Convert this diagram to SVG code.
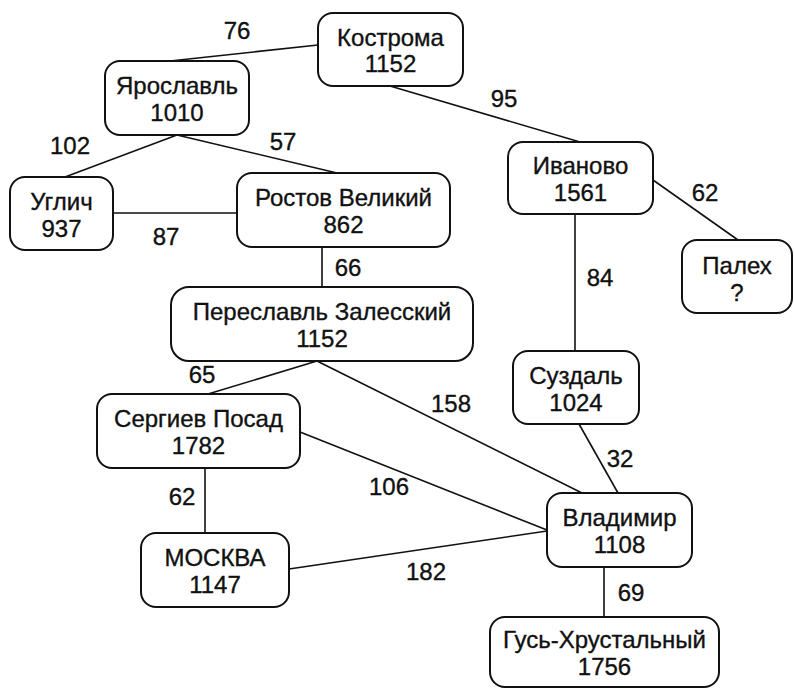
<svg xmlns="http://www.w3.org/2000/svg" width="794" height="689" viewBox="0 0 794 689">
<style>
.box{fill:#fff;stroke:#111;stroke-width:2}
.t{font-family:"Liberation Sans",Arial,sans-serif;font-size:24px;fill:#111;stroke:#111;stroke-width:0.35;text-anchor:middle}
.e{stroke:#111;stroke-width:1.6;fill:none}
</style>
<rect width="794" height="689" fill="#fff"/>
<g id="connectors">
<line class="e" x1="318" y1="45" x2="170" y2="61"/>
<line class="e" x1="390" y1="86" x2="580" y2="142"/>
<line class="e" x1="177" y1="135" x2="65" y2="177"/>
<line class="e" x1="177" y1="135" x2="337" y2="173"/>
<line class="e" x1="113" y1="213" x2="237" y2="213"/>
<line class="e" x1="322" y1="247" x2="322" y2="287"/>
<line class="e" x1="653" y1="180" x2="738" y2="240"/>
<line class="e" x1="575" y1="214" x2="575" y2="351"/>
<line class="e" x1="317" y1="361" x2="208" y2="394"/>
<line class="e" x1="317" y1="361" x2="582" y2="493"/>
<line class="e" x1="579" y1="424" x2="618" y2="493"/>
<line class="e" x1="300" y1="432" x2="547" y2="530"/>
<line class="e" x1="205" y1="468" x2="205" y2="533"/>
<line class="e" x1="289" y1="569" x2="547" y2="531"/>
<line class="e" x1="604" y1="567" x2="604" y2="617"/>
<g class="t">
<text x="237" y="39">76</text>
<text x="504" y="107">95</text>
<text x="70" y="154">102</text>
<text x="283" y="150">57</text>
<text x="166" y="245">87</text>
<text x="348" y="276">66</text>
<text x="705" y="201">62</text>
<text x="600" y="286">84</text>
<text x="202" y="383">65</text>
<text x="451" y="412">158</text>
<text x="620" y="467">32</text>
<text x="389" y="495">106</text>
<text x="182" y="505">62</text>
<text x="426" y="580">182</text>
<text x="631" y="601">69</text>
</g>
</g>
<g id="kostroma"><rect class="box" x="318" y="13" width="145" height="73" rx="15"/><text class="t" x="390.5" y="46">Кострома</text><text class="t" x="390.5" y="72">1152</text></g>
<g id="yaroslavl"><rect class="box" x="105" y="61" width="144" height="74" rx="15"/><text class="t" x="177" y="94">Ярославль</text><text class="t" x="177" y="121">1010</text></g>
<g id="uglich"><rect class="box" x="10" y="177" width="103" height="73" rx="15"/><text class="t" x="61.5" y="210">Углич</text><text class="t" x="61.5" y="237">937</text></g>
<g id="rostov"><rect class="box" x="237" y="173" width="213" height="74" rx="15"/><text class="t" x="343.5" y="206">Ростов Великий</text><text class="t" x="343.5" y="233">862</text></g>
<g id="ivanovo"><rect class="box" x="508" y="142" width="145" height="72" rx="15"/><text class="t" x="580.5" y="174">Иваново</text><text class="t" x="580.5" y="201">1561</text></g>
<g id="palekh"><rect class="box" x="682" y="240" width="110" height="73" rx="15"/><text class="t" x="737" y="274">Палех</text><text class="t" x="737" y="301">?</text></g>
<g id="pereslavl"><rect class="box" x="171" y="287" width="302" height="74" rx="18"/><text class="t" x="322" y="320">Переславль Залесский</text><text class="t" x="322" y="347">1152</text></g>
<g id="suzdal"><rect class="box" x="513" y="351" width="126" height="73" rx="15"/><text class="t" x="576" y="384">Суздаль</text><text class="t" x="576" y="411">1024</text></g>
<g id="sergiev"><rect class="box" x="97" y="394" width="203" height="74" rx="15"/><text class="t" x="198.5" y="427">Сергиев Посад</text><text class="t" x="198.5" y="454">1782</text></g>
<g id="vladimir"><rect class="box" x="547" y="493" width="145" height="74" rx="15"/><text class="t" x="619.5" y="526">Владимир</text><text class="t" x="619.5" y="553">1108</text></g>
<g id="moskva"><rect class="box" x="141" y="533" width="148" height="74" rx="15"/><text class="t" x="215" y="566">МОСКВА</text><text class="t" x="215" y="593">1147</text></g>
<g id="gus"><rect class="box" x="490" y="617" width="229" height="70" rx="15"/><text class="t" x="604.5" y="648">Гусь-Хрустальный</text><text class="t" x="604.5" y="675">1756</text></g>
</svg>
